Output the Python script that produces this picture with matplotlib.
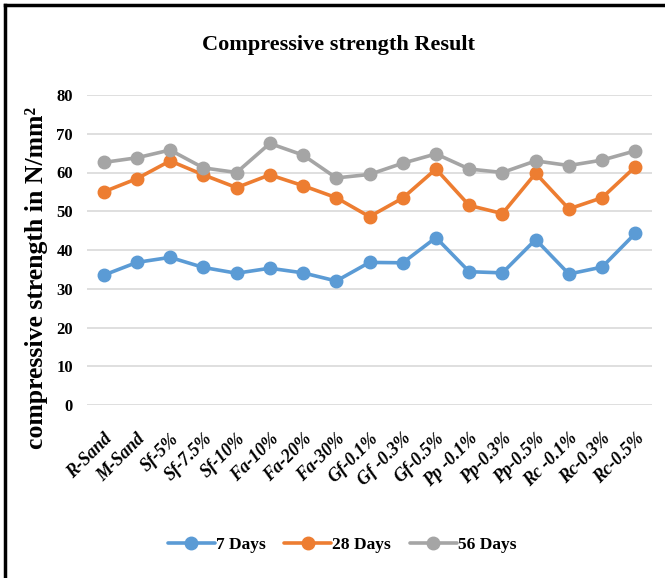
import matplotlib
matplotlib.use("Agg")
import matplotlib.pyplot as plt
from matplotlib.lines import Line2D

# ---- data ----
mixes = ["R-Sand", "M-Sand", "Sf-5%", "Sf-7.5%", "Sf-10%", "Fa-10%", "Fa-20%", "Fa-30%",
         "Gf-0.1%", "Gf -0.3%", "Gf-0.5%", "Pp -0.1%", "Pp-0.3%", "Pp-0.5%",
         "Rc -0.1%", "Rc-0.3%", "Rc-0.5%"]
days7 = [33.5, 36.8, 38.1, 35.5, 34.0, 35.3, 34.1, 32.0, 36.8, 36.7, 43.2, 34.4, 34.1, 42.7, 33.8, 35.6, 44.3]
days28 = [55.0, 58.4, 63.0, 59.4, 56.1, 59.4, 56.6, 53.5, 48.6, 53.4, 60.9, 51.5, 49.4, 59.8, 50.6, 53.5, 61.5]
days56 = [62.6, 63.8, 65.8, 61.2, 60.0, 67.5, 64.5, 58.6, 59.5, 62.4, 64.8, 60.9, 60.0, 63.0, 61.8, 63.2, 65.6]
series = [("7 Days", days7, "#5B9BD5"), ("28 Days", days28, "#ED7D31"), ("56 Days", days56, "#A5A5A5")]
yticks = [0, 10, 20, 30, 40, 50, 60, 70, 80]

plt.rcParams["font.family"] = ["Liberation Serif", "DejaVu Serif"]

fig = plt.figure(figsize=(6.65, 5.78), dpi=100)
ax = fig.add_axes([87 / 665, (578 - 405) / 578, (652 - 87) / 665, (405 - 95) / 578])

x = list(range(len(mixes)))
for name, vals, col in series:
    ax.plot(x, vals, color=col, lw=2.6, marker="o", markersize=9, label=name,
            solid_capstyle="round", zorder=3)

ax.set_xlim(-0.5, len(mixes) - 0.5)
ax.set_ylim(0, 80)
ax.set_yticks(yticks)
ax.set_yticklabels([str(v) for v in yticks], fontsize=12, fontweight="bold")
ax.set_xticks(x)
ax.set_xticklabels(mixes, rotation=45, ha="right", rotation_mode="anchor",
                   fontsize=13, fontweight="bold", fontstyle="italic")
ax.tick_params(axis="y", length=0, pad=10)
ax.tick_params(axis="x", length=0, pad=18)
ax.grid(axis="y", color="#D9D9D9", lw=1.2)
ax.set_axisbelow(True)
for s in ax.spines.values():
    s.set_visible(False)

fig.text(37 / 665, 1 - 278 / 578, "compressive strength in N/mm²", rotation=90,
         ha="center", va="center", fontsize=18.5, fontweight="bold")
fig.text(338 / 665, 1 - 45 / 578, "Compressive strength Result", ha="center", va="center",
         fontsize=16, fontweight="bold")

fig.legend(loc="center", bbox_to_anchor=(342 / 665, 1 - 545 / 578), ncol=3, frameon=False,
           prop={"size": 12.5, "weight": "bold"}, handlelength=2.7, columnspacing=1.1,
           handletextpad=0.05)

# frame lines at top and left of the picture
fig.add_artist(Line2D([5 / 665, 1], [1 - 5 / 578, 1 - 5 / 578], color="black", lw=2.5,
                      transform=fig.transFigure))
fig.add_artist(Line2D([5 / 665, 5 / 665], [0, 1 - 5 / 578], color="black", lw=2.5,
                      transform=fig.transFigure))

plt.savefig("out.png", dpi=100)
plt.close()
